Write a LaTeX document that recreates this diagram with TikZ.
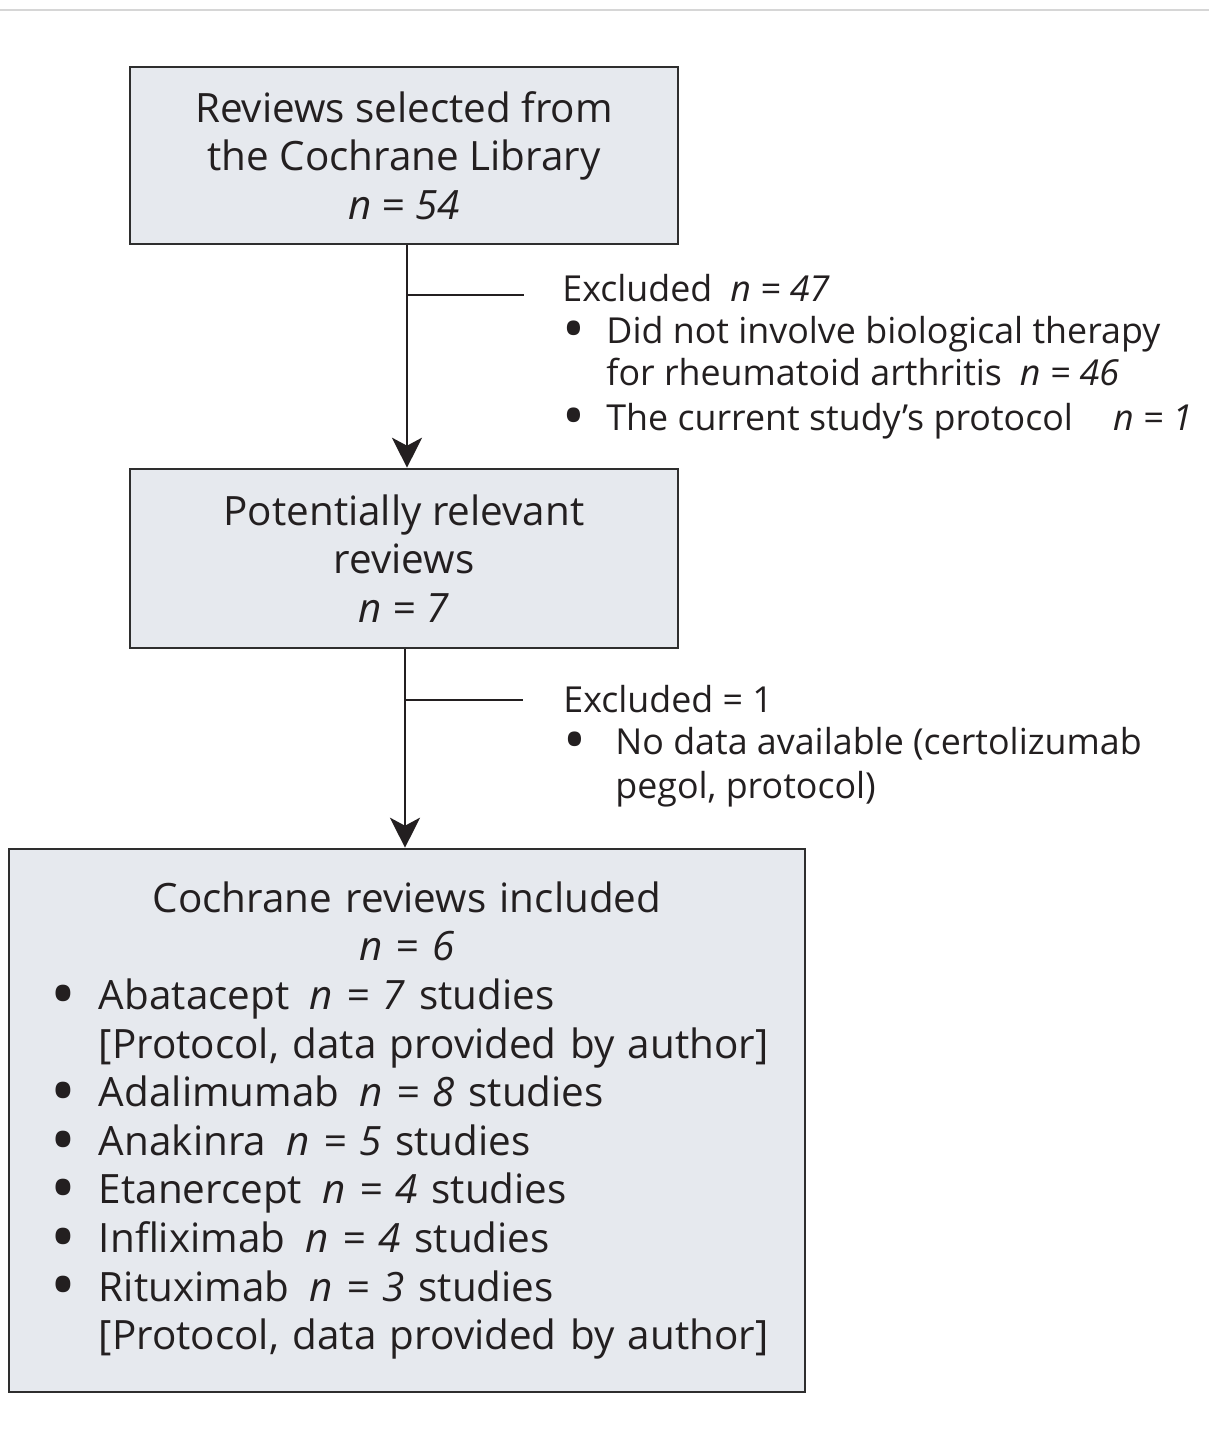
\documentclass[tikz,border=0pt]{standalone}
\usepackage{fontspec}
\setmainfont{Open Sans}
\usetikzlibrary{arrows.meta}

\definecolor{boxfill}{HTML}{E6E9EE}
\definecolor{boxline}{HTML}{2E2E2E}
\definecolor{ink}{HTML}{231F20}
\definecolor{rulegray}{HTML}{D6D6D6}

\newcommand{\boxfont}{\fontsize{20.2pt}{24.3pt}\selectfont}
\newcommand{\exclfont}{\fontsize{17.9pt}{21pt}\selectfont}
\newcommand{\bul}{\smash{\raisebox{-0.22em}{\scalebox{1.7}{\textbullet}}}}
\newcommand{\bitem}{\makebox[31pt][l]{\hspace*{7pt}\bul}}

\begin{document}
\begin{tikzpicture}[x=0.5pt,y=-0.5pt,line cap=butt,line join=miter]
    % styles
    \tikzstyle{revbox}=[draw=boxline,fill=boxfill,line width=1.3pt,inner sep=0pt,text=ink,font=\boxfont]
    \tikzstyle{excl}=[anchor=base west,inner sep=0pt,text=ink,font=\exclfont]
    \tikzstyle{flow}=[draw=ink,line width=1pt]

    \useasboundingbox (0,0) rectangle (1209,1432);
    % thin rule at the top
    \draw[rulegray,line width=1pt] (0,9.5) -- (1209,9.5);

    % ----------------------------------------------------
    % boxes
    % ----------------------------------------------------
    \node[revbox,align=center,minimum width=274pt,minimum height=88.5pt] (sel) at (404,155.5)
      {Reviews selected from\\the Cochrane Library\\\textit{n = 54}};
    \node[revbox,align=center,minimum width=274pt,minimum height=89.5pt] (pot) at (404,558.5)
      {Potentially relevant\\reviews\\\textit{n = 7}};
    \node[revbox,align=left,text width=370pt,inner xsep=14pt,minimum height=271.5pt] (incl) at (407,1120.5)
      {\makebox[\linewidth]{Cochrane reviews included}\\
       \makebox[\linewidth]{\textit{n = 6}}\\
       \bitem Abatacept\enspace\textit{n = 7} studies\\
       \hspace*{31pt}\mbox{[Protocol, data provided by author]}\\
       \bitem Adalimumab\enspace\textit{n = 8} studies\\
       \bitem Anakinra\enspace\textit{n = 5} studies\\
       \bitem Etanercept\enspace\textit{n = 4} studies\\
       \bitem Infliximab\enspace\textit{n = 4} studies\\
       \bitem Rituximab\enspace\textit{n = 3} studies\\
       \hspace*{31pt}\mbox{[Protocol, data provided by author]}\\[12pt]};

    % ----------------------------------------------------
    % exclusions
    % ----------------------------------------------------
    \node[excl] (ex1) at (562,301)
      {\begin{tabular}[t]{@{}p{22pt}@{}l@{}}
       \multicolumn{2}{@{}l@{}}{Excluded\enspace\textit{n = 47}}\\
       \bul & Did not involve biological therapy\\
            & for rheumatoid arthritis\enspace\textit{n = 46}\\[1.5pt]
       \bul & The current study’s protocol\hspace{20pt}\textit{n = 1}
       \end{tabular}};
    \node[excl] (ex2) at (563,712)
      {\begin{tabular}[t]{@{}p{26pt}@{}l@{}}
       \multicolumn{2}{@{}l@{}}{Excluded = 1}\\
       \bul & No data available (certolizumab\\[1pt]
            & pegol, protocol)
       \end{tabular}};

    % ----------------------------------------------------
    % connectors
    % ----------------------------------------------------
    \draw[flow,-{Stealth[length=15pt,width=15pt,inset=4pt]}] ([xshift=1.5pt]sel.south) -- ([xshift=1.5pt]pot.north);
    \draw[flow,-{Stealth[length=15pt,width=15pt,inset=4pt]}] ([xshift=0.5pt]pot.south) -- ([xshift=0.5pt]pot.south |- incl.north);
    \coordinate (br1) at ([xshift=1.5pt]sel.south |- 0,295);
    \coordinate (br1e) at (524,295);
    \coordinate (br2) at ([xshift=0.5pt]pot.south |- 0,700);
    \coordinate (br2e) at (523,700);
    \draw[flow] (br1) -- (br1e);
    \draw[flow] (br2) -- (br2e);
\end{tikzpicture}
\end{document}
